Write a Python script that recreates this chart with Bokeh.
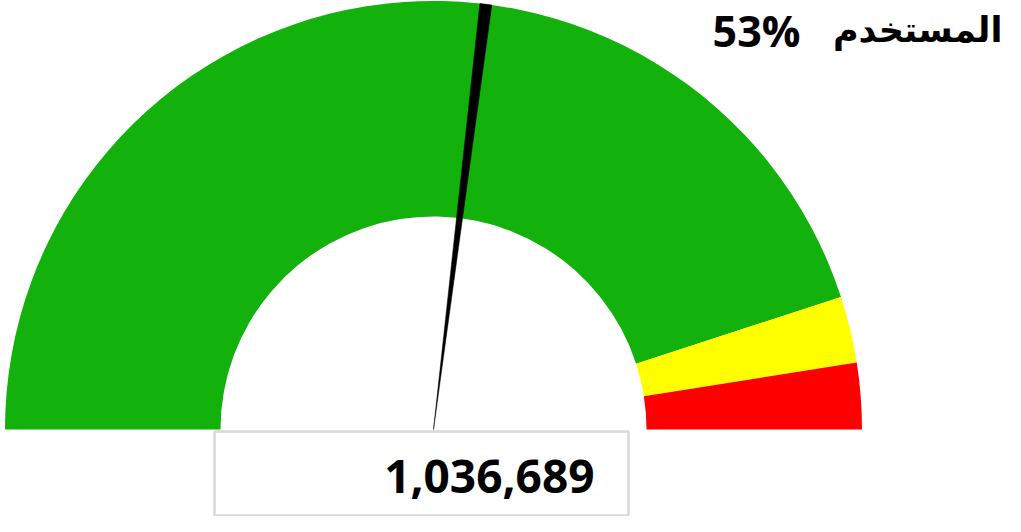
import math
from bokeh.plotting import figure
from bokeh.models import Range1d, ColumnDataSource
from bokeh.core.properties import value
from bokeh.embed import file_html
from bokeh.resources import INLINE

# ---- data ----
band_starts = [0.0, 0.90, 0.95]
band_ends = [0.90, 0.95, 1.00]
band_colors = ["#13B10B", "#FFFF00", "#FF0000"]
pct_used = 0.539
used_label = "المستخدم"
total_value = 1036689

# ---- geometry (pixel-like data units, origin at gauge centre) ----
R_OUT = 428.5
R_IN = 213

p = figure(width=1005, height=516, output_backend="svg", toolbar_location=None,
           x_range=Range1d(-433, 572), y_range=Range1d(-87, 429),
           min_border=0, outline_line_color=None)
p.axis.visible = False
p.grid.visible = False
p.background_fill_color = "white"
p.border_fill_color = "white"

def ang(frac):
    return math.pi * (1 - frac)

src = ColumnDataSource(dict(
    start=[ang(e) for e in band_ends],
    end=[ang(s) for s in band_starts],
    color=band_colors,
))
p.annular_wedge(x=0, y=0, inner_radius=R_IN, outer_radius=R_OUT,
                start_angle="start", end_angle="end", fill_color="color",
                line_color=None, source=src)

# needle
a = ang(pct_used)
half = 6.0 / R_OUT
nx = [0, R_OUT * math.cos(a - half), R_OUT * math.cos(a + half)]
ny = [0, R_OUT * math.sin(a - half), R_OUT * math.sin(a + half)]
p.patch(nx, ny, fill_color="black", line_color="black", line_width=0.5)

# value box
p.quad(left=-219, right=195, top=-2, bottom=-86, fill_color="white",
       line_color="#D9D9D9", line_width=2.5)
p.text(x=[161], y=[-47], text=[f"{total_value:,}"], text_align="right",
       text_baseline="middle", text_font=value("Open Sans"),
       text_font_style="bold", text_font_size="46px", text_color="black")

# title: "المستخدم 53%"
p.text(x=[569], y=[400], text=[used_label],
       text_align="right", text_baseline="middle",
       text_font=value("DejaVu Sans"), text_font_style="bold",
       text_font_size="35px", text_color="black")
p.text(x=[367], y=[399], text=[f"{int(pct_used*100)}%"],
       text_align="right", text_baseline="middle",
       text_font=value("Open Sans"), text_font_style="bold",
       text_font_size="43px", text_color="black")

open("out.html", "w").write(file_html(p, INLINE))
